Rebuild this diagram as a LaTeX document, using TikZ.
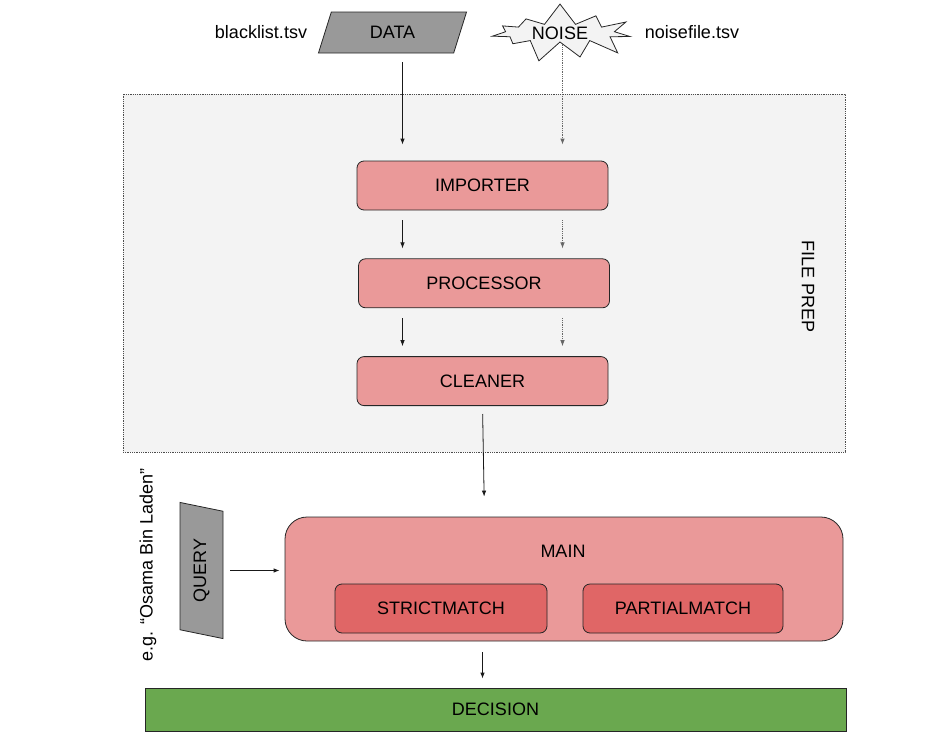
\documentclass[tikz,border=0pt]{standalone}
\usepackage{fontspec}
\setmainfont{Liberation Sans}
\usepackage{tikz}
\usetikzlibrary{calc, positioning, arrows.meta, shapes.geometric, shapes.symbols}
\definecolor{stagepink}{HTML}{EA9999}
\definecolor{matchred}{HTML}{E06666}
\definecolor{decgreen}{HTML}{6AA84F}
\definecolor{inputgray}{HTML}{999999}
\definecolor{prepgray}{HTML}{F3F3F3}
\tikzset{
    stage/.style={rectangle, draw=black!85, line width=0.8pt, fill=stagepink, rounded corners=7pt, minimum width=251pt, minimum height=49pt},
    matcher/.style={rectangle, draw=black!85, line width=0.8pt, fill=matchred, rounded corners=7pt, minimum height=49pt},
    hub/.style={rectangle, draw=black!85, line width=0.8pt, fill=stagepink, rounded corners=22pt, minimum width=558pt, minimum height=124pt},
    outcome/.style={rectangle, draw=black!85, line width=0.8pt, fill=decgreen, minimum width=701pt, minimum height=43pt},
    source/.style={trapezium, trapezium stretches=true, draw=black!85, line width=0.8pt, fill=inputgray},
    noisy/.style={starburst, starburst points=11, starburst point height=22pt, random starburst=7, draw=black!85, line width=0.8pt, fill=prepgray, minimum width=154pt, minimum height=48pt, inner sep=0pt},
    prepbox/.style={rectangle, draw=black!70, densely dotted, line width=0.8pt, fill=prepgray, minimum width=722pt, minimum height=358pt},
    flow/.style={-{Latex[length=6pt,width=4.5pt]}, line width=0.8pt, draw=black!90},
    noiseflow/.style={flow, densely dotted, draw=black!60},
    tag/.style={inner sep=0pt}
}

\begin{document}
\begin{tikzpicture}[x=1pt, y=-1pt, every node/.append style={font=\fontsize{18}{21}\selectfont}]
    \useasboundingbox (0,0) rectangle (938,747);

    % Inputs
    \node[source, trapezium left angle=74, trapezium right angle=106, minimum width=149pt, minimum height=41pt] (data) at (392.5,32.5) {DATA};
    \node[noisy] (noise) at (560,33) {NOISE};
    \node[tag] (blacklist) at (261,32) {blacklist.tsv};
    \node[tag] (noisefile) at (692,32) {noisefile.tsv};

    % File preparation
    \node[prepbox] (prep) at (484,273) {};
    \node[tag, rotate=-90] (preplabel) at (808,287) {FILE PREP};
    \node[stage] (importer) at (482.5,185.5) {IMPORTER};
    \node[stage, below=48pt of importer, xshift=1.5pt] (processor) {PROCESSOR};
    \node[stage, below=48pt of processor, xshift=-1.5pt] (cleaner) {CLEANER};

    \path ([xshift=-80pt]importer.north) coordinate (impL)
          ([xshift=80pt]importer.north) coordinate (impR);

    \draw[flow, shorten <=9pt, shorten >=16pt] (data.south -| impL) -- (impL);
    \draw[noiseflow, shorten <=1pt, shorten >=16pt] (noise.south -| impR) -- (impR);
    \draw[flow, shorten <=10pt, shorten >=10pt] (importer.south -| impL) -- (processor.north -| impL);
    \draw[noiseflow, shorten <=10pt, shorten >=10pt] (importer.south -| impR) -- (processor.north -| impR);
    \draw[flow, shorten <=10pt, shorten >=10pt] (processor.south -| impL) -- (cleaner.north -| impL);
    \draw[noiseflow, shorten <=10pt, shorten >=10pt] (processor.south -| impR) -- (cleaner.north -| impR);

    % Matching
    \node[hub] (main) at (564,579) {};
    \node[tag] (maintitle) at (563,551) {MAIN};
    \node[matcher, minimum width=212pt] (strict) at (441,608.5) {STRICTMATCH};
    \node[matcher, minimum width=200pt] (partial) at (683,608.5) {PARTIALMATCH};

    \node[source, rotate=90, trapezium left angle=77, trapezium right angle=103, minimum width=137pt, minimum height=43pt] (query) at (201.5,570.5) {QUERY};
    \node[tag, rotate=90] (example) at (148,565) {e.g. “Osama Bin Laden”};

    \draw[flow, shorten <=8pt, shorten >=20pt] (cleaner.south) -- ([xshift=2pt]cleaner.south |- main.north);
    \draw[flow, shorten <=7pt, shorten >=5pt] (query.south) -- (main.west |- query.south);

    % Outcome
    \node[outcome] (decision) at (495.5,709.5) {DECISION};
    \draw[flow, shorten <=11pt, shorten >=9pt] (main.south -| cleaner.south) -- (decision.north -| cleaner.south);
\end{tikzpicture}
\end{document}
